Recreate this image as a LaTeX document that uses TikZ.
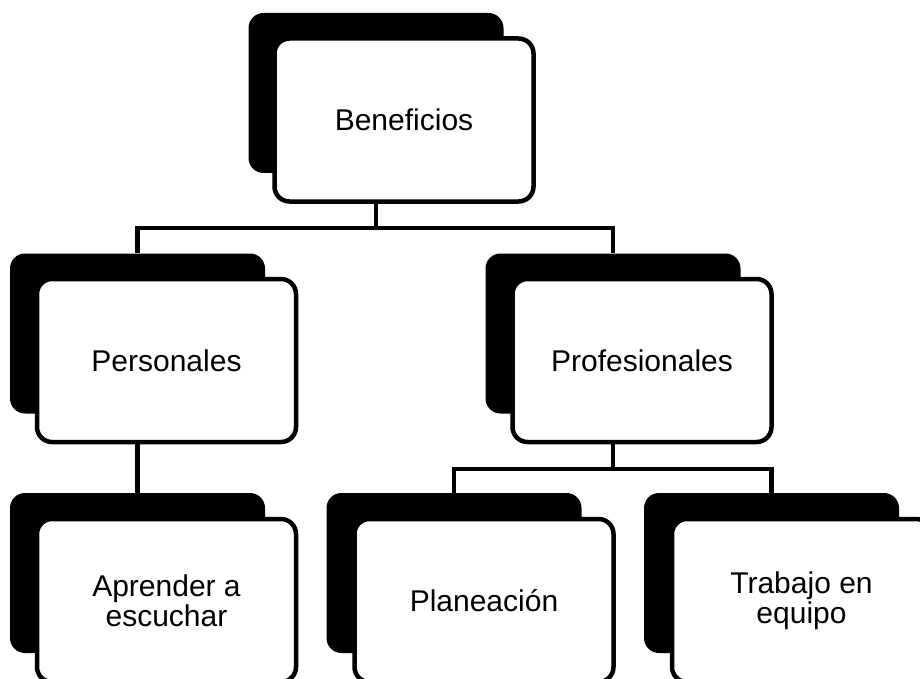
\documentclass[tikz,border=0pt]{standalone}
\usepackage{fontspec}
\setmainfont{Liberation Sans}

\begin{document}
\begin{tikzpicture}[x=1pt, y=-1pt,
	caja/.style={draw, line width=4.5pt, fill=white, rounded corners=15pt,
		minimum width=259pt, minimum height=163pt, align=center,
		font=\fontsize{30}{30}\selectfont},
	sombra/.style={fill=black, rounded corners=15pt,
		minimum width=255pt, minimum height=160pt},
	conector/.style={line width=4.5pt}]
	\clip (0,0) rectangle (920,679);
	
	\node [sombra] (bens) at (376,93) {};
	\node [sombra] (pers) at (137.5,333.5) {};
	\node [sombra] (pros) at (613,333.5) {};
	\node [sombra] (aprs) at (137.5,573) {};
	\node [sombra] (plas) at (454,573) {};
	\node [sombra] (tras) at (771.5,573) {};
	
	\node [caja] (ben) at (404,120) {Beneficios};
	\node [caja] (per) at (166.5,360.5) {Personales};
	\node [caja] (pro) at (642,360.5) {Profesionales};
	\node [caja] (apr) at (166.5,600.5) {Aprender a\\escuchar};
	\node [caja] (pla) at (484,600.5) {Planeación};
	\node [caja] (tra) at (801.5,600.5) {Trabajo en\\equipo};
	
	\coordinate (nivel1) at (0,228);
	\coordinate (nivel2) at (0,469);
	
	\draw [conector] (bens |- ben.south) -- (bens |- nivel1) -| (pers.north);
	\draw [conector] (bens |- nivel1) -| (pros.north);
	\draw [conector] (pers |- per.south) -- (aprs.north);
	\draw [conector] (pros |- pro.south) -- (pros |- nivel2) -| (plas.north);
	\draw [conector] (pros |- nivel2) -| (tras.north);
\end{tikzpicture}
\end{document}
